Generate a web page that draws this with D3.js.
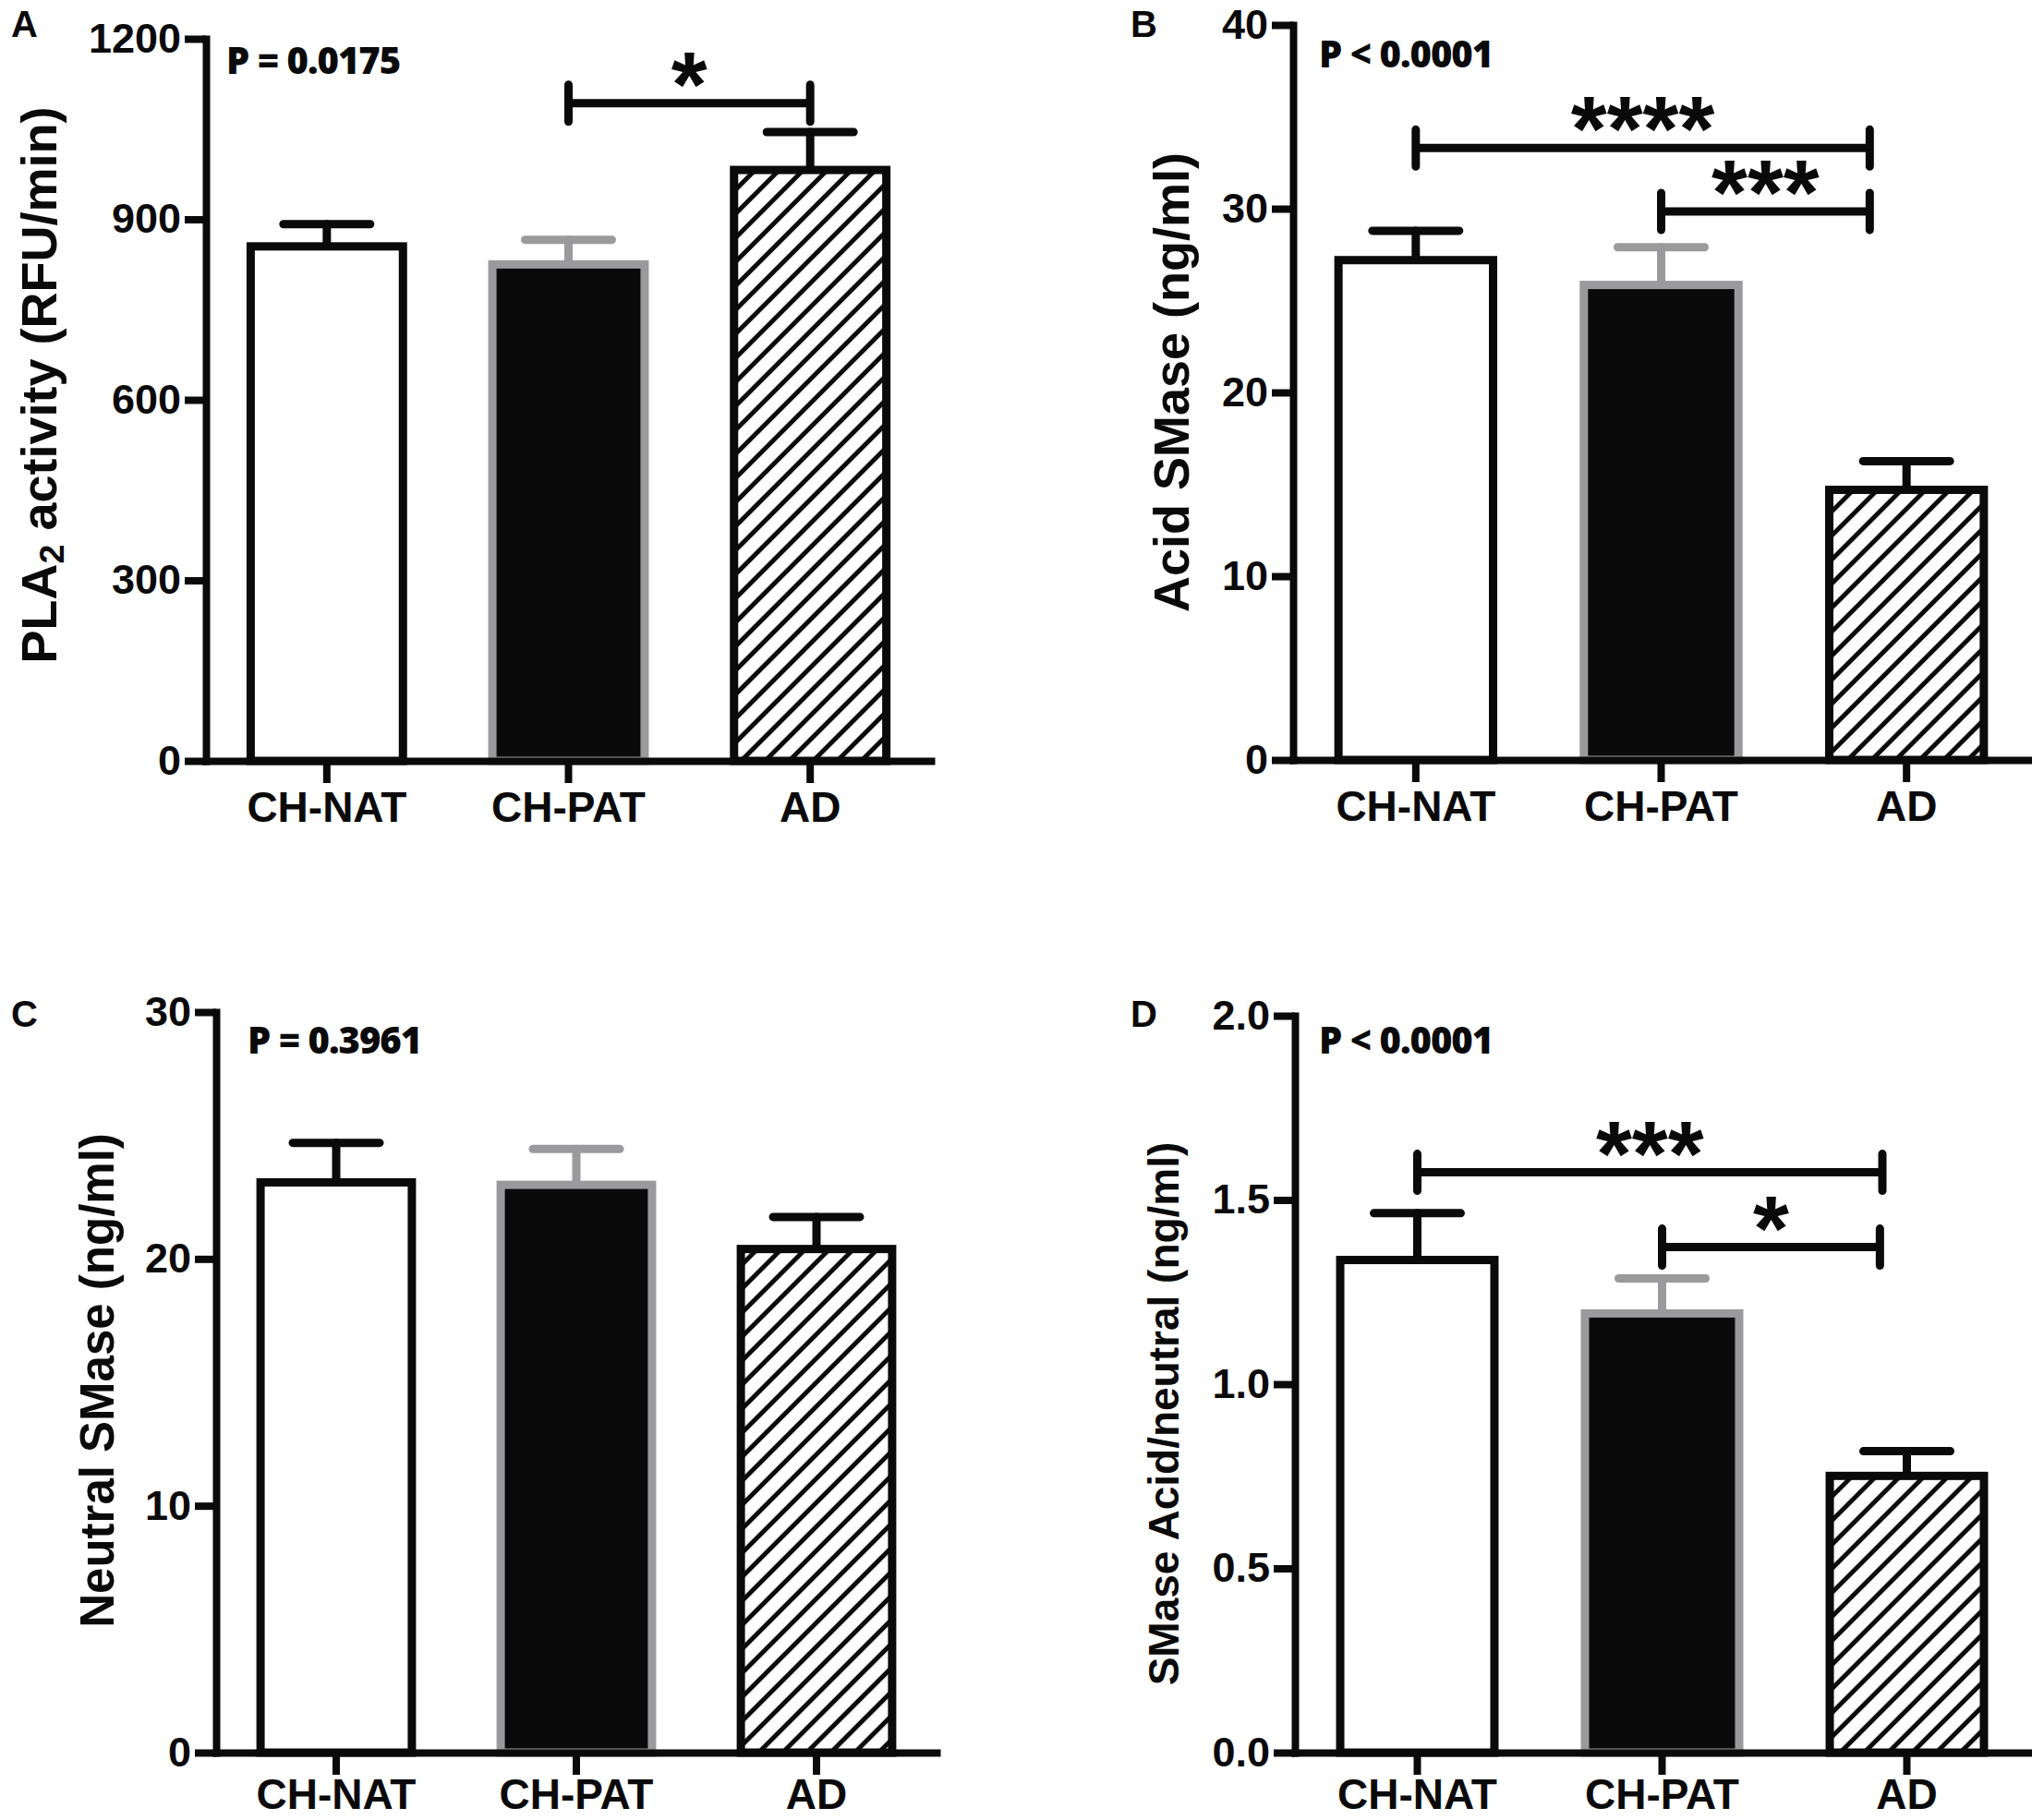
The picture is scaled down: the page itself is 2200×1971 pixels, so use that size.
<!DOCTYPE html>
<html>
<head>
<meta charset="utf-8">
<script src="https://cdn.jsdelivr.net/npm/d3@7"></script>
<style>
  body { margin: 0; background: #fff; }
  svg text { font-family: "Liberation Sans", Arial, sans-serif; font-weight: bold; fill: #0a0a0a; }
</style>
</head>
<body>
<svg id="fig" width="2200" height="1971"></svg>
<script>
// groups on the x axis
const groups = ["CH-NAT", "CH-PAT", "AD"];

// means and SEM
const plaMean = [855, 825, 982];
const plaSem = [37, 41, 63];
const acidMean = [27.2, 25.85, 14.7];
const acidSem = [1.6, 2.05, 1.56];
const neutralMean = [23.1, 23.0, 20.4];
const neutralSem = [1.6, 1.45, 1.3];
const ratioMean = [1.337, 1.192, 0.751];
const ratioSem = [0.127, 0.095, 0.067];

// y ticks
const plaTicks = [0, 300, 600, 900, 1200];
const acidTicks = [0, 10, 20, 30, 40];
const neutralTicks = [0, 10, 20, 30];
const ratioTicks = [0, 0.5, 1.0, 1.5, 2.0];

// overall p values
const pTexts = ["P = 0.0175", "P < 0.0001", "P = 0.3961", "P < 0.0001"];

// significance brackets (group index positions, height in data units)
const plaBrackets = [{from: 1, to: 2, y: 1093, label: "*"}];
const acidBrackets = [
  {from: 0, to: 1.85, y: 33.3, label: "****"},
  {from: 1, to: 1.85, y: 29.85, label: "***"}
];
const neutralBrackets = [];
const ratioBrackets = [
  {from: 0, to: 1.9, y: 1.575, label: "***"},
  {from: 1, to: 1.89, y: 1.372, label: "*"}
];

const black = "#0a0a0a";
const grey = "#9a9a9c";

const svg = d3.select("#fig");

// diagonal hatch for the AD bars
svg.append("defs").append("pattern")
    .attr("id", "hatch")
    .attr("patternUnits", "userSpaceOnUse")
    .attr("width", 18.4)
    .attr("height", 18.4)
    .attr("patternTransform", "rotate(45)")
  .call(p => p.append("rect").attr("width", 18.4).attr("height", 18.4).attr("fill", "#fff"))
  .call(p => p.append("line")
    .attr("x1", 9.2).attr("y1", -1).attr("x2", 9.2).attr("y2", 19.4)
    .attr("stroke", black).attr("stroke-width", 5));

const panels = [
  {letter: "A", mean: plaMean, sem: plaSem, ticks: plaTicks, brackets: plaBrackets, p: pTexts[0],
   fmt: d3.format("d"), title: "PLA|2| activity (RFU/min)",
   left: 223, right: 1008, top: 42, bottom: 824, labelPad: 9,
   titleX: 42, titleY: 417, titleSize: 54, pX: 245, pY: 80, letterX: 12, letterY: 40},
  {letter: "B", mean: acidMean, sem: acidSem, ticks: acidTicks, brackets: acidBrackets, p: pTexts[1],
   fmt: d3.format("d"), title: "Acid SMase (ng/ml)",
   left: 1400, right: 2197, top: 27, bottom: 823, labelPad: 9,
   titleX: 1268, titleY: 414, titleSize: 54, pX: 1428, pY: 73, letterX: 1224, letterY: 40},
  {letter: "C", mean: neutralMean, sem: neutralSem, ticks: neutralTicks, brackets: neutralBrackets, p: pTexts[2],
   fmt: d3.format("d"), title: "Neutral SMase (ng/ml)",
   left: 234, right: 1014, top: 1096, bottom: 1898, labelPad: 4,
   titleX: 105, titleY: 1495, titleSize: 51, pX: 268, pY: 1141, letterX: 12, letterY: 1112},
  {letter: "D", mean: ratioMean, sem: ratioSem, ticks: ratioTicks, brackets: ratioBrackets, p: pTexts[3],
   fmt: d3.format(".1f"), title: "SMase Acid/neutral (ng/ml)",
   left: 1402, right: 2197, top: 1100, bottom: 1898, labelPad: 4,
   titleX: 1259, titleY: 1531, titleSize: 46, pX: 1428, pY: 1141, letterX: 1224, letterY: 1112}
];

panels.forEach(drawPanel);

function drawPanel(cfg) {
  const g = svg.append("g");
  const ymax = cfg.ticks[cfg.ticks.length - 1];

  const y = d3.scaleLinear().domain([0, ymax]).range([cfg.bottom, cfg.top]);
  const x = d3.scaleBand().domain(groups).range([cfg.left, cfg.right])
    .paddingInner(0.37).paddingOuter(0.185);
  // continuous position in group units, used by the brackets
  const pos = d3.scaleLinear().domain([-0.5, groups.length - 0.5]).range([cfg.left, cfg.right]);

  const data = groups.map((name, i) => ({name, i, mean: cfg.mean[i], sem: cfg.sem[i]}));

  // error bars (upper only)
  const err = g.append("g").selectAll("g").data(data).enter().append("g")
    .attr("stroke", d => d.i === 1 ? grey : black)
    .attr("stroke-width", 9)
    .attr("stroke-linecap", "round");
  err.append("line")
    .attr("x1", d => x(d.name) + x.bandwidth() / 2)
    .attr("x2", d => x(d.name) + x.bandwidth() / 2)
    .attr("y1", d => y(d.mean))
    .attr("y2", d => y(d.mean + d.sem));
  err.append("line")
    .attr("x1", d => x(d.name) + x.bandwidth() / 2 - 47)
    .attr("x2", d => x(d.name) + x.bandwidth() / 2 + 47)
    .attr("y1", d => y(d.mean + d.sem))
    .attr("y2", d => y(d.mean + d.sem));

  // bars
  g.append("g").selectAll("rect").data(data).enter().append("rect")
    .attr("x", d => x(d.name))
    .attr("width", x.bandwidth())
    .attr("y", d => y(d.mean))
    .attr("height", d => y(0) - y(d.mean))
    .attr("fill", d => d.i === 0 ? "#fff" : (d.i === 1 ? black : "url(#hatch)"))
    .attr("stroke", d => d.i === 1 ? grey : black)
    .attr("stroke-width", 9);

  // y axis
  const yAxis = g.append("g")
    .attr("transform", "translate(" + cfg.left + ",0)")
    .call(d3.axisLeft(y).tickValues(cfg.ticks).tickFormat(cfg.fmt).tickSize(23).tickSizeOuter(0).tickPadding(4));
  // x axis
  const xAxis = g.append("g")
    .attr("transform", "translate(0," + cfg.bottom + ")")
    .call(d3.axisBottom(x).tickSize(24).tickSizeOuter(0).tickPadding(cfg.labelPad));

  [yAxis, xAxis].forEach(a => {
    a.attr("font-family", null).attr("font-size", null);
    a.select(".domain").attr("stroke", black).attr("stroke-width", 8).attr("stroke-linecap", "square");
    a.selectAll(".tick line").attr("stroke", black).attr("stroke-width", 8);
  });
  yAxis.selectAll(".tick text").style("font-size", "45px");
  xAxis.selectAll(".tick text").style("font-size", "46px");

  // y title, with subscript marked by |..|
  const title = g.append("text")
    .attr("transform", "translate(" + cfg.titleX + "," + cfg.titleY + ") rotate(-90)")
    .attr("text-anchor", "middle")
    .attr("dy", "0.36em")
    .style("font-size", cfg.titleSize + "px");
  cfg.title.split("|").forEach((part, k) => {
    const t = title.append("tspan").text(part);
    if (k === 1) t.attr("baseline-shift", "-22%").style("font-size", (cfg.titleSize * 0.7) + "px");
  });

  // overall p value
  g.append("text")
    .attr("x", cfg.pX).attr("y", cfg.pY)
    .style("font-family", "'Open Sans', sans-serif")
    .style("font-weight", 800)
    .style("font-size", "40px")
    .style("letter-spacing", "-1px")
    .text(cfg.p);

  // panel letter
  g.append("text")
    .attr("x", cfg.letterX).attr("y", cfg.letterY)
    .style("font-size", "40px")
    .text(cfg.letter);

  // significance brackets
  const br = g.append("g").selectAll("g").data(cfg.brackets).enter().append("g");
  br.append("path")
    .attr("d", d => {
      const x0 = pos(d.from), x1 = pos(d.to), yy = y(d.y);
      return "M" + x0 + "," + (yy - 20) + "V" + (yy + 20) +
             "M" + x0 + "," + yy + "H" + x1 +
             "M" + x1 + "," + (yy - 20) + "V" + (yy + 20);
    })
    .attr("fill", "none")
    .attr("stroke", black)
    .attr("stroke-width", 9)
    .attr("stroke-linecap", "round");
  br.append("text")
    .attr("x", d => (pos(d.from) + pos(d.to)) / 2)
    .attr("y", d => y(d.y) + 14)
    .attr("text-anchor", "middle")
    .style("font-size", "100px")
    .text(d => d.label);
}
</script>
</body>
</html>
